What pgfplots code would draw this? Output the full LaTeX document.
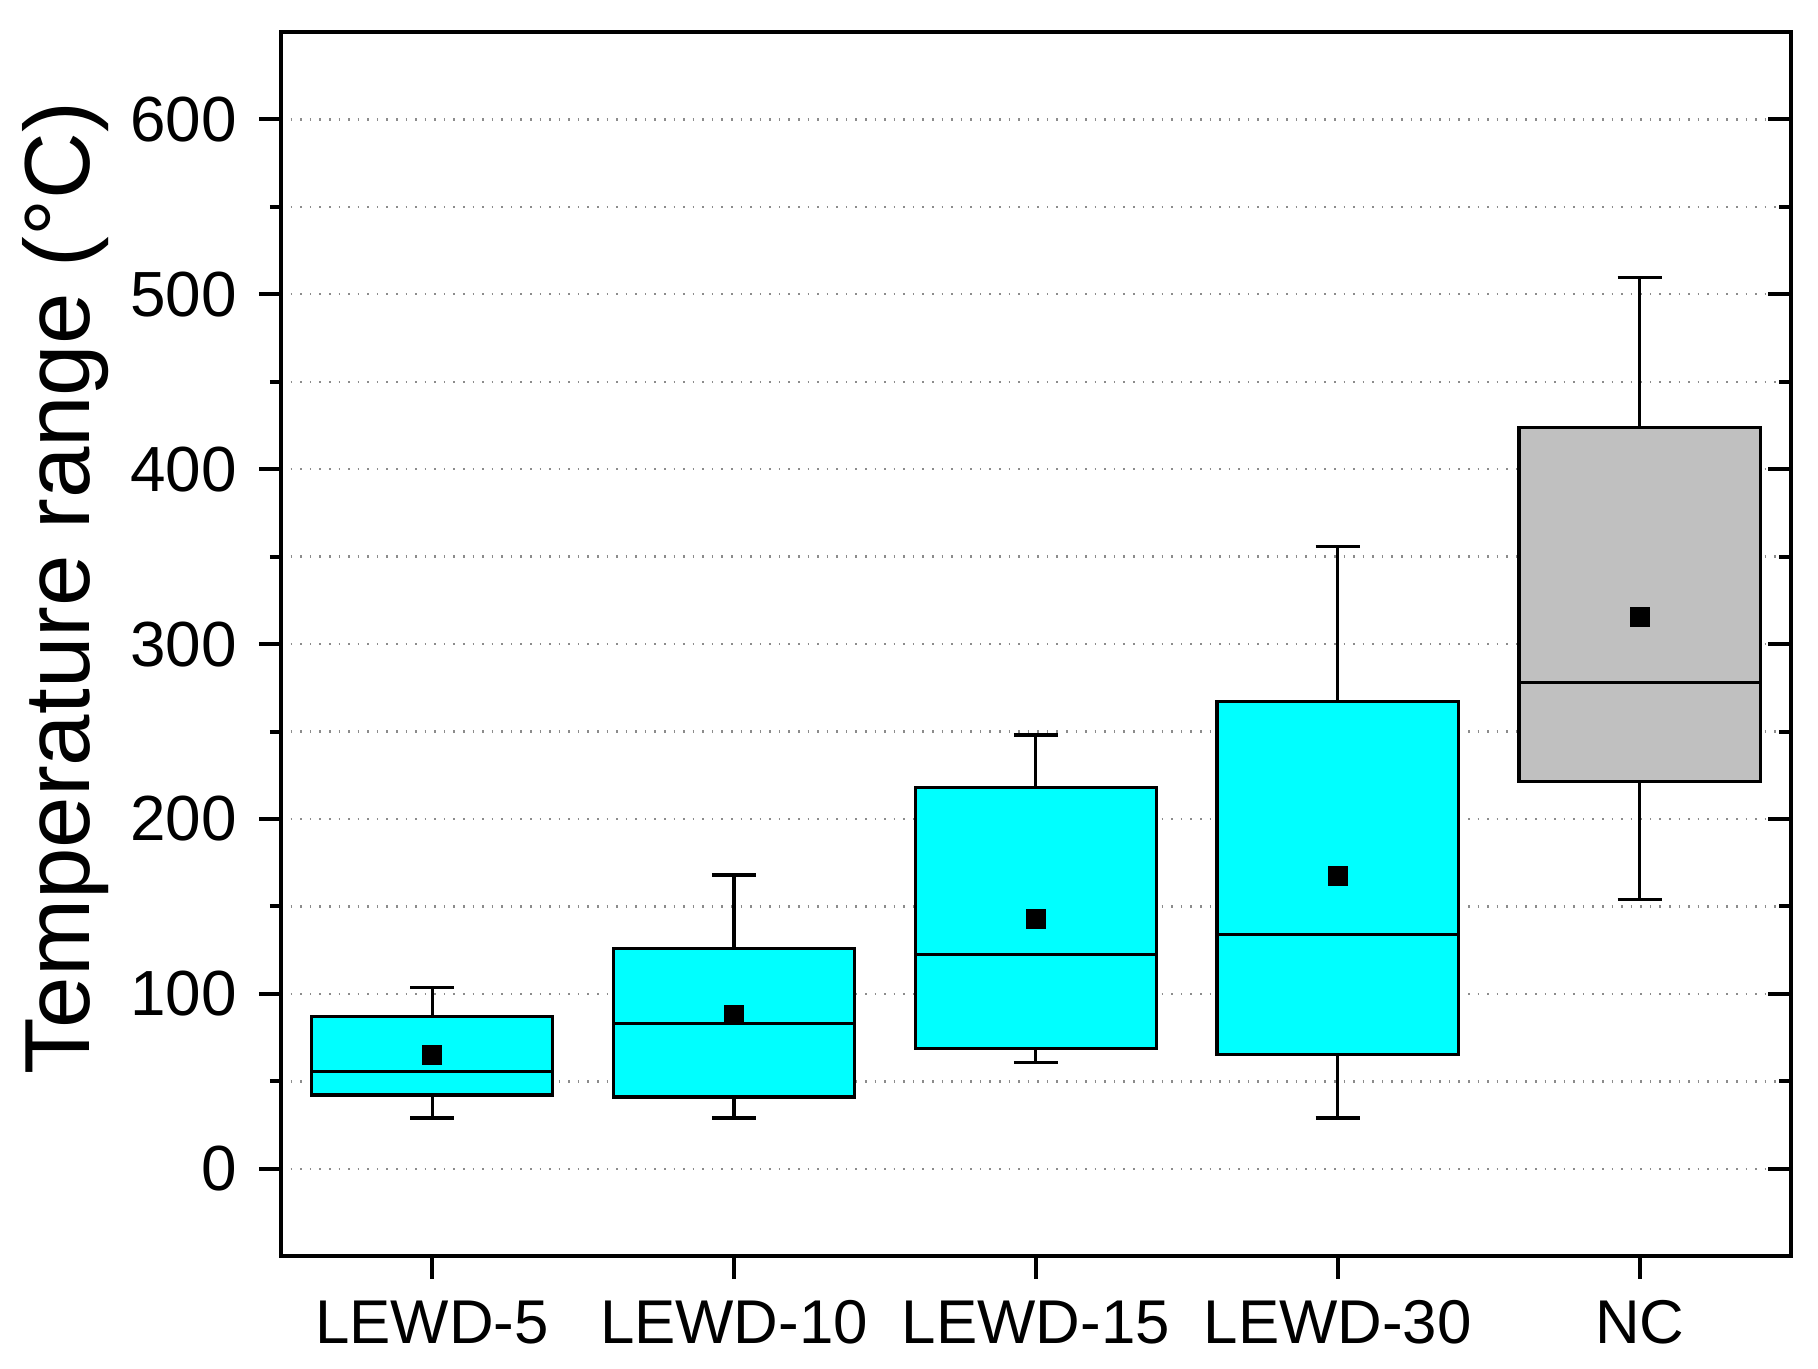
\documentclass[border=0pt]{standalone}
\usepackage{pgfplots}
\pgfplotsset{compat=1.18}
\usepackage{fontspec}
\setmainfont{Liberation Sans}
\definecolor{boxcyan}{RGB}{0,255,255}
\definecolor{boxgray}{RGB}{192,192,192}

\begin{document}
\begin{tikzpicture}
  \begin{axis}[
      name=main,
      scale only axis,
      width=378.5pt, height=307pt,
      xmin=0.5, xmax=5.5,
      ymin=-50, ymax=650,
      axis line style={line width=1pt},
      major tick length=5.6pt,
      minor tick length=2.8pt,
      /pgf/number format/assume math mode=true,
      yticklabel style={font=\fontsize{16}{19}\selectfont},
      xticklabel style={font=\fontsize{15.5}{18}\selectfont},
      tick style={black, line width=1pt},
      tick align=outside,
      xtick pos=bottom, ytick pos=left,
      xtick={1,2,3,4,5},
      xticklabels={LEWD-5,LEWD-10,LEWD-15,LEWD-30,NC},
      xticklabel shift=2pt,
      ytick={0,100,...,600},
      minor y tick num=1,
      yticklabel shift=2pt,
      ymajorgrids, yminorgrids,
      major grid style={dotted, gray!90, line width=0.6pt},
      minor grid style={dotted, gray!90, line width=0.6pt},
      ylabel={Temperature range (°C)},
      ylabel style={font=\fontsize{23.2}{26}\selectfont, yshift=-1.5pt, xshift=14pt},
      unbounded coords=jump,
    ]
    % whiskers: box edge to whisker end, then cap
    \addplot[black, line width=0.8pt] coordinates {
      (1,87) (1,103.5) (1,nan) (0.927,103.5) (1.073,103.5) (1,nan)
      (1,42.2) (1,29) (1,nan) (0.927,29) (1.073,29) (1,nan)
      (2,126) (2,168) (2,nan) (1.927,168) (2.073,168) (2,nan)
      (2,41) (2,29) (2,nan) (1.927,29) (2.073,29) (2,nan)
      (3,218) (3,248) (3,nan) (2.927,248) (3.073,248) (3,nan)
      (3,68.6) (3,60.6) (3,nan) (2.927,60.6) (3.073,60.6) (3,nan)
      (4,267) (4,356) (4,nan) (3.927,356) (4.073,356) (4,nan)
      (4,65.3) (4,29) (4,nan) (3.927,29) (4.073,29) (4,nan)
      (5,424) (5,509.5) (5,nan) (4.927,509.5) (5.073,509.5) (5,nan)
      (5,221.5) (5,154) (5,nan) (4.927,154) (5.073,154)
    };
    % boxes (lower quartile to upper quartile)
    \addplot[draw=black, line width=0.8pt, fill=boxcyan]
      coordinates {(0.6,42.2) (1.4,42.2) (1.4,87) (0.6,87)} -- cycle;
    \addplot[draw=black, line width=0.8pt, fill=boxcyan]
      coordinates {(1.6,41) (2.4,41) (2.4,126) (1.6,126)} -- cycle;
    \addplot[draw=black, line width=0.8pt, fill=boxcyan]
      coordinates {(2.6,68.6) (3.4,68.6) (3.4,218) (2.6,218)} -- cycle;
    \addplot[draw=black, line width=0.8pt, fill=boxcyan]
      coordinates {(3.6,65.3) (4.4,65.3) (4.4,267) (3.6,267)} -- cycle;
    \addplot[draw=black, line width=0.8pt, fill=boxgray]
      coordinates {(4.6,221.5) (5.4,221.5) (5.4,424) (4.6,424)} -- cycle;
    % medians
    \addplot[black, line width=0.8pt] coordinates {
      (0.6,55.4) (1.4,55.4) (1,nan)
      (1.6,83) (2.4,83) (2,nan)
      (2.6,122.6) (3.4,122.6) (3,nan)
      (3.6,134) (4.4,134) (4,nan)
      (4.6,278) (5.4,278)
    };
    % means
    \addplot[only marks, mark=square*, mark size=2.3pt, black]
      coordinates {(1,65.3) (2,87.7) (3,143) (4,167.4) (5,315.7)};
  \end{axis}
  % right-hand inward ticks
  \begin{axis}[
      at={(main.south west)}, anchor=south west,
      scale only axis,
      width=378.5pt, height=307pt,
      xmin=0.5, xmax=5.5,
      ymin=-50, ymax=650,
      axis line style={line width=1pt},
      major tick length=5.6pt,
      minor tick length=2.8pt,
      tick style={black, line width=1pt},
      tick align=inside,
      xtick=\empty,
      ytick pos=right,
      ytick={0,100,...,600},
      minor y tick num=1,
      yticklabels={},
    ]
  \end{axis}
  \path (main.south west) ++(-70.5pt,-28.25pt) rectangle ++(454.5pt,343.25pt);
\end{tikzpicture}
\end{document}
